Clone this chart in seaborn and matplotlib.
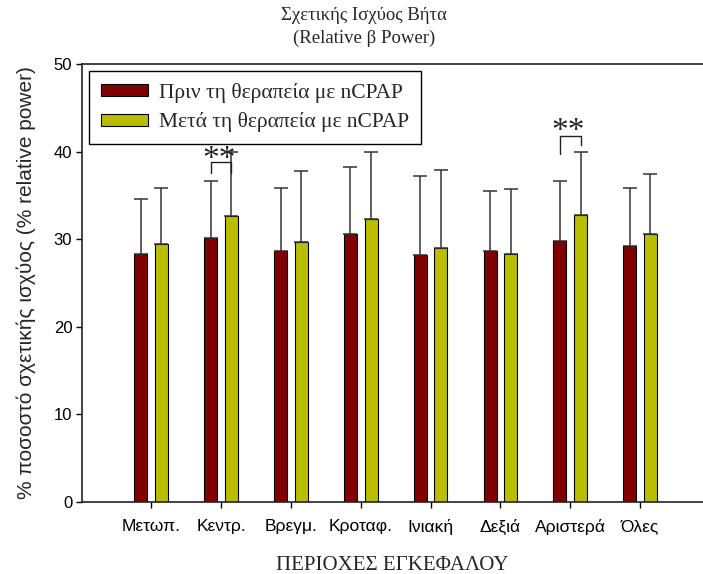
import numpy as np
import pandas as pd
import matplotlib
matplotlib.use("Agg")
import matplotlib.pyplot as plt
import seaborn as sns

# Data
regions = ["Μετωπ.", "Κεντρ.", "Βρεγμ.", "Κροταφ.", "Ινιακή", "Δεξιά", "Αριστερά", "Όλες"]
before_mean = [28.3, 30.1, 28.7, 30.6, 28.2, 28.6, 29.8, 29.2]
before_sd = [6.3, 6.5, 7.1, 7.6, 9.0, 6.9, 6.9, 6.6]
after_mean = [29.5, 32.6, 29.7, 32.3, 29.0, 28.3, 32.8, 30.6]
after_sd = [6.3, 7.4, 8.1, 7.7, 8.9, 7.4, 7.1, 6.8]
groups = ["Πριν τη θεραπεία με nCPAP", "Μετά τη θεραπεία με nCPAP"]

# significance markers: (region index, bracket top, left leg end, right leg end, star y)
sig_idx = [1, 6]
sig_top = [38.8, 41.8]
sig_left = [37.6, 39.7]
sig_right = [37.6, 40.75]
sig_star = [39.05, 42.3]

colors = ["#800000", "#B9BE00"]

df = pd.DataFrame({
    "region": regions * 2,
    "group": [groups[0]] * len(regions) + [groups[1]] * len(regions),
    "mean": before_mean + after_mean,
    "sd": before_sd + after_sd,
})

sns.set_style("white")
plt.rcParams["font.family"] = ["Liberation Sans", "DejaVu Sans"]
serif = ["Liberation Serif", "DejaVu Serif"]

fig = plt.figure(figsize=(7.03, 5.74), dpi=100)
ax = fig.add_axes([82 / 703, 72 / 574, 621 / 703, 438 / 574])

sns.barplot(data=df, x="region", y="mean", hue="group", order=regions,
            hue_order=groups, palette=colors, saturation=1, width=0.59,
            gap=0.37, edgecolor="black", linewidth=0.8, errorbar=None, ax=ax)

# one-sided error bars on top of each bar
for cont, sds in zip(ax.containers, [before_sd, after_sd]):
    xs = [p.get_x() + p.get_width() / 2 for p in cont]
    hs = [p.get_height() for p in cont]
    ax.errorbar(xs, hs, yerr=[np.zeros(len(sds)), sds], fmt="none",
                ecolor="#333333", elinewidth=1.1, capsize=4.8, capthick=1.1,
                zorder=1)

# significance brackets
for i, top, yl, yr, ys in zip(sig_idx, sig_top, sig_left, sig_right, sig_star):
    pl = ax.containers[0][i]
    pr = ax.containers[1][i]
    xl = pl.get_x() + pl.get_width() / 2
    xr = pr.get_x() + pr.get_width() / 2
    ax.plot([xl, xl, xr, xr], [yl, top, top, yr], color="#222222", lw=1.0)
    ax.text((xl + xr) / 2 - 0.03, ys, "**", ha="center", va="center",
            fontsize=24, family=serif, zorder=2)

ax.set_ylim(0, 50)
ax.set_xlim(-0.99, 7.9)
ax.set_yticks([0, 10, 20, 30, 40, 50])
ax.tick_params(axis="both", direction="out", length=4, width=1,
               left=True, bottom=True, colors="black")
ax.tick_params(axis="x", pad=8, labelsize=12.5)
ax.tick_params(axis="y", pad=3, labelsize=12)

for s in ["left", "bottom", "top"]:
    ax.spines[s].set_visible(True)
    ax.spines[s].set_color("#222222")
    ax.spines[s].set_linewidth(1.2)
ax.spines["right"].set_visible(False)

ax.set_ylabel("% ποσοστό σχετικής ισχύος (% relative power)", fontsize=15,
              labelpad=13)
ax.set_xlabel("ΠΕΡΙΟΧΕΣ ΕΓΚΕΦΑΛΟΥ", family=serif, fontsize=15, labelpad=15)

fig.text(364 / 703, 1 - 27 / 574, "Σχετικής Ισχύος Βήτα\n(Relative β Power)",
         ha="center", va="center", family=serif, fontsize=13.5, linespacing=1.38)

leg = ax.legend(loc="upper left", bbox_to_anchor=(0.011, 0.984),
                borderaxespad=0, frameon=True, fancybox=False, shadow=False,
                framealpha=1, prop={"family": serif, "size": 15.5},
                handlelength=2.2, handleheight=0.5, handletextpad=0.5,
                labelspacing=0.44, borderpad=0.55)
leg.get_frame().set_edgecolor("black")
leg.get_frame().set_linewidth(1.0)
leg.set_zorder(5)

fig.savefig("out.png", dpi=100)
